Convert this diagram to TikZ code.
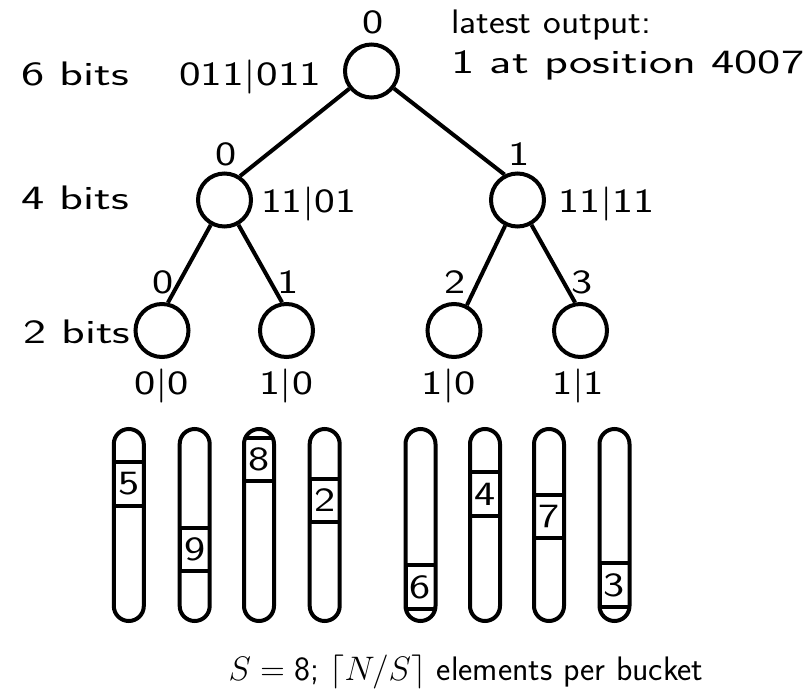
\documentclass[tikz,border=0pt]{standalone}
\usepackage{fix-cm}
\usepackage{graphicx}
\newcommand\hs[1]{\scalebox{1.32}[1]{#1}}
\newcommand\fw[2]{\resizebox{#1pt}{\height}{#2}}
\tikzset{
  lbl/.style={inner sep=0pt, font=\fontsize{34}{40}\selectfont\sffamily},
  tnode/.style={circle, draw, line width=4pt, minimum size=53pt, inner sep=0pt},
  edge/.style={line width=4pt},
  bucket/.style={draw, line width=4pt, rounded corners=15pt, minimum width=30pt, minimum height=192pt, inner sep=0pt},
  elem/.style={draw, line width=4pt, minimum width=30pt, minimum height=43.5pt, inner sep=0pt, font=\fontsize{34}{40}\selectfont\sffamily}
}
\begin{document}
\begin{tikzpicture}[x=1pt,y=-1pt]
\useasboundingbox (0,0) rectangle (805,690);
% tree nodes
\node[tnode] (root) at (371.5,71) {};
\node[tnode] (l) at (224.5,200) {};
\node[tnode] (r) at (517.5,200) {};
\node[tnode] (ll) at (162,330.5) {};
\node[tnode] (lr) at (286.5,330.5) {};
\node[tnode] (rl) at (454,330.5) {};
\node[tnode] (rr) at (580.5,330.5) {};
% edges
\draw[edge] (root) -- (l.57);
\draw[edge] (root) -- (r.117);
\draw[edge] (l) -- (ll.78);
\draw[edge] (l) -- (lr.99);
\draw[edge] (r) -- (rl.63);
\draw[edge] (r) -- (rr.101);
% top labels
\node[lbl, anchor=base] (t0) at (373,34) {\hs{0}};
\node[lbl, anchor=base west] (latest) at (451,34) {\fw{200}{latest output:}};
\node[lbl, anchor=base west] (pos) at (451,74) {\fw{353}{1 at position 4007}};
\node[lbl, anchor=base west] (six) at (21,86) {\fw{108}{6 bits}};
\node[lbl, anchor=base west] (c0) at (179,86) {\fw{142}{011|011}};
% level 2
\node[lbl, anchor=base west] (four) at (21,209) {\fw{108}{4 bits}};
\node[lbl, anchor=base] (tl) at (226,165) {\hs{0}};
\node[lbl, anchor=base] (tr) at (519.5,165) {\hs{1}};
\node[lbl, anchor=base west] (cl) at (261,212) {\fw{95}{11|01}};
\node[lbl, anchor=base west] (cr) at (558,212) {\fw{96}{11|11}};
% level 3
\node[lbl, anchor=base west] (two) at (23,343) {\fw{107}{2 bits}};
\node[lbl, anchor=base] (tll) at (163,293) {\hs{0}};
\node[lbl, anchor=base] (tlr) at (288.5,293) {\hs{1}};
\node[lbl, anchor=base] (trl) at (455,293) {\hs{2}};
\node[lbl, anchor=base] (trr) at (582,293) {\hs{3}};
\node[lbl, anchor=base] (cll) at (161.5,394) {\fw{55}{0|0}};
\node[lbl, anchor=base] (clr) at (286,394) {\fw{54}{1|0}};
\node[lbl, anchor=base] (crl) at (448.5,394) {\fw{55}{1|0}};
\node[lbl, anchor=base] (crr) at (578,394) {\fw{52}{1|1}};
% buckets
\foreach \i/\x/\d/\y in {1/128.8/5/484, 2/194.7/9/549.5, 3/259/8/459.5, 4/324.7/2/500.5, 5/420.5/6/587, 6/485/4/494, 7/549/7/516.5, 8/614.5/3/585} {
  \begin{scope}
    \clip[rounded corners=15pt] (\x-15,429) rectangle (\x+15,621);
    \node[elem] (e\i) at (\x,\y) {\hs{\d}};
  \end{scope}
  \node[bucket] (b\i) at (\x,525) {};
}
% caption
\node[lbl, anchor=base] (cap) at (466,680) {\fw{475}{$S=\mbox{8}$; $\lceil N/S\rceil$ elements per bucket}};
\end{tikzpicture}
\end{document}
